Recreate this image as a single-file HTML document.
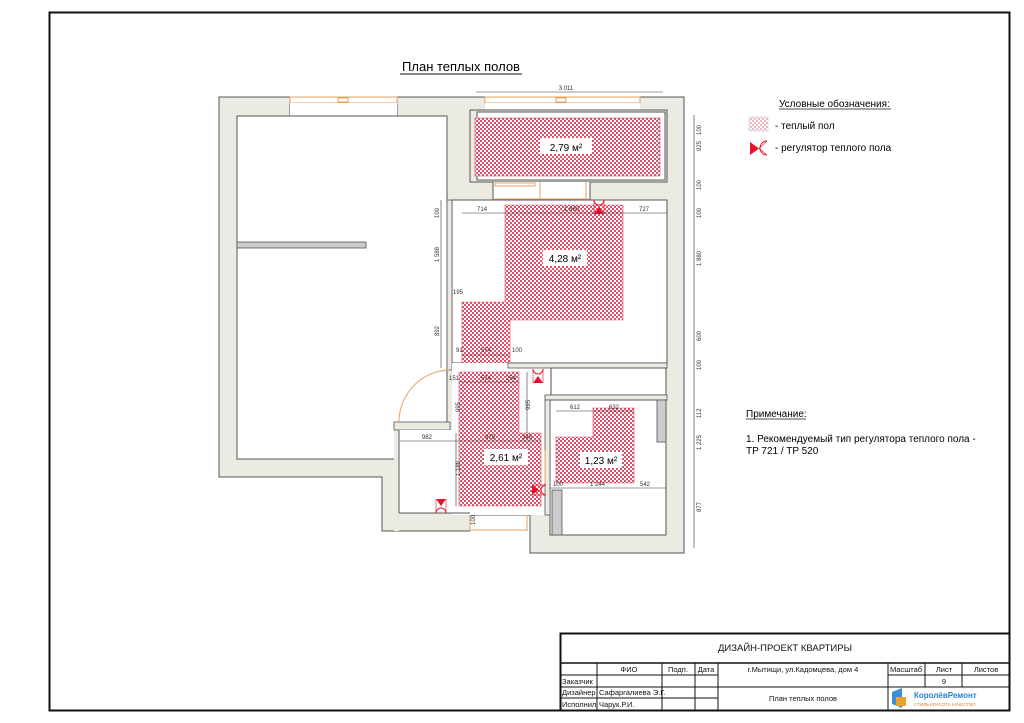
<!DOCTYPE html>
<html><head><meta charset="utf-8"><style>
body{margin:0;background:#fff;}
svg{display:block;font-family:"Liberation Sans",sans-serif;}
</style></head><body>
<svg width="1024" height="723" viewBox="0 0 1024 723" xmlns="http://www.w3.org/2000/svg">
<defs>
<pattern id="h" width="4" height="4" patternUnits="userSpaceOnUse">
<rect width="4" height="4" fill="#fff"/>
<rect width="2" height="2" fill="#e0506a"/><rect x="2" y="2" width="2" height="2" fill="#e0506a"/>
</pattern>
<pattern id="hl" width="4" height="4" patternUnits="userSpaceOnUse">
<rect width="4" height="4" fill="#fff"/>
<rect width="2" height="2" fill="#eeb8c0"/><rect x="2" y="2" width="2" height="2" fill="#eeb8c0"/>
</pattern>
<g id="reg"><polygon points="-5,-7 5,-7 0,0" fill="#e8102a"/><path d="M-5,7 A5,5 0 0 1 5,7" fill="none" stroke="#e8102a" stroke-width="1"/><line x1="-5" y1="-7" x2="-5" y2="7" stroke="#e8102a" stroke-width="0.6"/><line x1="5" y1="-7" x2="5" y2="7" stroke="#e8102a" stroke-width="0.6"/></g>
</defs>
<rect x="49.5" y="12.5" width="960" height="698" fill="none" stroke="#111" stroke-width="2"/>
<text x="461" y="71" font-size="13" text-anchor="middle">План теплых полов</text>
<line x1="400" y1="74" x2="522" y2="74" stroke="#111"/>

<polygon points="219,97 290,97 290,116 397,116 397,97 485,97 485,97 640,97 640,97 684,97 684,553 530,553 530,515 470,515 470,531 382,531 382,477 219,477" fill="#ebebe4" stroke="#555" stroke-width="1"/>
<rect x="290" y="97" width="107" height="6" fill="#fff" stroke="#e8a060" stroke-width="1"/>
<rect x="338" y="98" width="10" height="4" fill="none" stroke="#e8a060"/>
<rect x="485" y="97" width="155" height="6" fill="#fff" stroke="#e8a060" stroke-width="1"/>
<rect x="556" y="98" width="10" height="4" fill="none" stroke="#e8a060"/>
<rect x="290" y="103" width="107" height="13" fill="#fff"/>
<rect x="485" y="103" width="155" height="7" fill="#fff"/>
<rect x="237" y="116" width="210" height="343" fill="#fff" stroke="#555"/>
<rect x="237" y="242" width="129" height="6" fill="#ccc" stroke="#555" stroke-width="0.8"/>
<rect x="470" y="110" width="197" height="72" fill="#ebebe4" stroke="#555"/>
<rect x="477" y="112" width="188" height="68" fill="#fff" stroke="#555"/>
<rect x="475" y="118" width="185" height="58" fill="url(#h)" stroke="#e0506a" stroke-width="0.6"/>
<rect x="540" y="138" width="52" height="16" fill="#fff"/>
<text x="566" y="151" font-size="10" text-anchor="middle">2,79 м²</text>
<rect x="493" y="182" width="97" height="18" fill="#fff"/>
<line x1="493" y1="182" x2="493" y2="200" stroke="#555"/><line x1="590" y1="182" x2="590" y2="200" stroke="#555"/>
<rect x="495" y="183" width="40" height="3" fill="none" stroke="#e8a060"/>
<line x1="540" y1="182" x2="540" y2="200" stroke="#e8a060"/><line x1="586" y1="182" x2="586" y2="200" stroke="#e8a060"/>
<line x1="493" y1="199" x2="590" y2="199" stroke="#e8a060"/>
<rect x="452" y="200" width="215" height="163" fill="#fff" stroke="#555"/>
<rect x="447" y="200" width="5" height="170" fill="#ebebe4" stroke="#555" stroke-width="0.8"/>
<polygon points="505,205 623,205 623,320 510,320 510,363 462,363 462,302 505,302" fill="url(#h)" stroke="#e0506a" stroke-width="0.6"/>
<rect x="543" y="250" width="44" height="16" fill="#fff"/>
<text x="565" y="262" font-size="10" text-anchor="middle">4,28 м²</text>
<rect x="452" y="363" width="98" height="152" fill="#fff"/>
<rect x="508" y="363" width="159" height="5" fill="#ebebe4" stroke="#555" stroke-width="0.8"/>
<rect x="551" y="368" width="115" height="27" fill="#fff" stroke="#555"/>
<rect x="545" y="395" width="122" height="5" fill="#ebebe4" stroke="#555" stroke-width="0.8"/>
<rect x="550" y="400" width="116" height="135" fill="#fff" stroke="#555"/>
<rect x="545" y="400" width="5" height="115" fill="#ebebe4" stroke="#555" stroke-width="0.8"/>
<rect x="552" y="490" width="10" height="45" fill="#ccc" stroke="#555" stroke-width="0.8"/>
<rect x="657" y="400" width="9" height="42" fill="#ccc" stroke="#555" stroke-width="0.8"/>
<polygon points="593,408 634,408 634,483 556,483 556,437 593,437" fill="url(#h)" stroke="#e0506a" stroke-width="0.6"/>
<rect x="580" y="452" width="42" height="16" fill="#fff"/>
<text x="601" y="464" font-size="10" text-anchor="middle">1,23 м²</text>
<rect x="394" y="422" width="5" height="109" fill="#ebebe4"/>
<rect x="394" y="422" width="56" height="8" fill="#ebebe4" stroke="#555" stroke-width="0.8"/>
<rect x="399" y="430" width="60" height="83" fill="#fff"/>
<line x1="399" y1="430" x2="399" y2="513" stroke="#555"/><line x1="399" y1="513" x2="470" y2="513" stroke="#555"/>
<polygon points="459,372 519,372 519,433 541,433 541,506 459,506" fill="url(#h)" stroke="#e0506a" stroke-width="0.6"/>
<rect x="484" y="449" width="44" height="16" fill="#fff"/>
<text x="506" y="461" font-size="10" text-anchor="middle">2,61 м²</text>
<path d="M399,422 A52,52 0 0 1 449,370" fill="none" stroke="#e8a060"/>
<line x1="470" y1="515" x2="470" y2="531" stroke="#e8a060"/><line x1="527" y1="515" x2="527" y2="531" stroke="#e8a060"/>
<line x1="470" y1="530" x2="527" y2="530" stroke="#e8a060"/>
<line x1="545" y1="450" x2="545" y2="483" stroke="#e8a060"/>
<use href="#reg" transform="translate(599,207) rotate(180)"/>
<use href="#reg" transform="translate(538,376) rotate(180)"/>
<use href="#reg" x="441" y="506"/>
<use href="#reg" transform="translate(539,490) rotate(-90)"/>
<g stroke="#333" stroke-width="0.6" fill="none">
<line x1="476" y1="92" x2="663" y2="92"/>
<line x1="462" y1="213" x2="667" y2="213"/>
<line x1="694" y1="115" x2="694" y2="548"/>
<line x1="441" y1="200" x2="441" y2="368"/>
<line x1="462" y1="355" x2="510" y2="355"/>
<line x1="459" y1="382" x2="519" y2="382"/>
<line x1="400" y1="441" x2="541" y2="441"/>
<line x1="556" y1="411" x2="634" y2="411"/>
<line x1="550" y1="488" x2="666" y2="488"/>
<line x1="527" y1="372" x2="527" y2="433"/>
<line x1="456" y1="433" x2="456" y2="506"/>
</g>
<g font-size="6" fill="#333">
<text x="566" y="90" text-anchor="middle">3 011</text>
<text x="477" y="211">714</text><text x="564" y="211">1 860</text><text x="639" y="211">727</text>
<text x="453" y="294">195</text>
<text x="456" y="352">91</text><text x="481" y="352">574</text><text x="512" y="352">100</text>
<text x="449" y="380">151</text><text x="481" y="380">574</text><text x="506" y="380">254</text>
<text x="422" y="439">982</text><text x="485" y="439">979</text><text x="522" y="439">345</text>
<text x="570" y="409">612</text><text x="609" y="409">632</text>
<text x="590" y="486">1 244</text><text x="640" y="486">542</text><text x="553" y="486">100</text>
</g>
<g font-size="6" fill="#333">
<text transform="translate(701,135) rotate(-90)">100</text>
<text transform="translate(701,151) rotate(-90)">925</text>
<text transform="translate(701,190) rotate(-90)">100</text>
<text transform="translate(701,218) rotate(-90)">100</text>
<text transform="translate(701,266) rotate(-90)">1 880</text>
<text transform="translate(701,341) rotate(-90)">600</text>
<text transform="translate(701,370) rotate(-90)">100</text>
<text transform="translate(701,418) rotate(-90)">112</text>
<text transform="translate(701,450) rotate(-90)">1 225</text>
<text transform="translate(701,512) rotate(-90)">877</text>
<text transform="translate(439,218) rotate(-90)">100</text>
<text transform="translate(439,262) rotate(-90)">1 588</text>
<text transform="translate(439,336) rotate(-90)">892</text>
<text transform="translate(460,412) rotate(-90)">995</text>
<text transform="translate(530,410) rotate(-90)">995</text>
<text transform="translate(460,476) rotate(-90)">1 186</text>
<text transform="translate(475,525) rotate(-90)">100</text>
</g>
<text x="779" y="107" font-size="10">Условные обозначения:</text>
<line x1="779" y1="109" x2="891" y2="109" stroke="#111" stroke-width="0.8"/>
<rect x="749" y="117" width="19" height="14" fill="url(#hl)" stroke="#ccc" stroke-width="0.6"/>
<text x="775" y="129" font-size="10">- теплый пол</text>
<polygon points="750,142 750,155 759,148.5" fill="#e8102a"/>
<path d="M767,141 A7,7 0 0 0 767,155" fill="none" stroke="#e8102a"/>
<line x1="759" y1="148.5" x2="767" y2="141" stroke="#e8102a" stroke-width="0.6"/><line x1="759" y1="148.5" x2="767" y2="155" stroke="#e8102a" stroke-width="0.6"/>
<text x="775" y="151" font-size="10">- регулятор теплого пола</text>
<text x="746" y="417" font-size="10">Примечание:</text>
<line x1="746" y1="419" x2="806" y2="419" stroke="#111" stroke-width="0.8"/>
<text x="746" y="442" font-size="10">1. Рекомендуемый тип регулятора теплого пола -</text>
<text x="746" y="454" font-size="10">TP 721 / TP 520</text>
<g stroke="#111" fill="none">
<rect x="560.5" y="633.5" width="449" height="77" stroke-width="2"/>
<line x1="560" y1="663" x2="1010" y2="663" stroke-width="1.5"/>
<line x1="560" y1="675" x2="718" y2="675"/><line x1="888" y1="675" x2="1010" y2="675"/>
<line x1="560" y1="687" x2="1010" y2="687"/>
<line x1="560" y1="698" x2="718" y2="698"/>
<line x1="597" y1="663" x2="597" y2="710"/>
<line x1="662" y1="663" x2="662" y2="710"/>
<line x1="695" y1="663" x2="695" y2="710"/>
<line x1="718" y1="663" x2="718" y2="710"/>
<line x1="888" y1="663" x2="888" y2="710"/>
<line x1="925" y1="663" x2="925" y2="687"/>
<line x1="962" y1="663" x2="962" y2="687"/>
</g>
<g font-size="7.5" fill="#111">
<text x="785" y="651" font-size="9.5" text-anchor="middle">ДИЗАЙН-ПРОЕКТ КВАРТИРЫ</text>
<text x="629" y="672" text-anchor="middle">ФИО</text>
<text x="678" y="672" text-anchor="middle">Подп.</text>
<text x="706" y="672" text-anchor="middle">Дата</text>
<text x="803" y="672" text-anchor="middle">г.Мытищи, ул.Кадомцева, дом 4</text>
<text x="906" y="672" text-anchor="middle">Масштаб</text>
<text x="944" y="672" text-anchor="middle">Лист</text>
<text x="986" y="672" text-anchor="middle">Листов</text>
<text x="944" y="684" text-anchor="middle">9</text>
<text x="562" y="684">Заказчик</text>
<text x="562" y="695">Дизайнер</text>
<text x="599" y="695">Сафаргалиева Э.Г.</text>
<text x="562" y="707">Исполнил</text>
<text x="599" y="707">Чарук.Р.И.</text>
<text x="803" y="701" text-anchor="middle">План теплых полов</text>
</g>
<polygon points="892,692 902,688 902,708 892,704" fill="#3a8fd8"/>
<rect x="896" y="697" width="10" height="9" fill="#f0a030"/>
<text x="914" y="698" font-size="8" font-weight="bold" fill="#2a7fd0">КоролёвРемонт</text>
<text x="914" y="706" font-size="4.5" fill="#e08020">СТИЛЬ КРАСОТА КАЧЕСТВО</text>
</svg>
</body></html>
